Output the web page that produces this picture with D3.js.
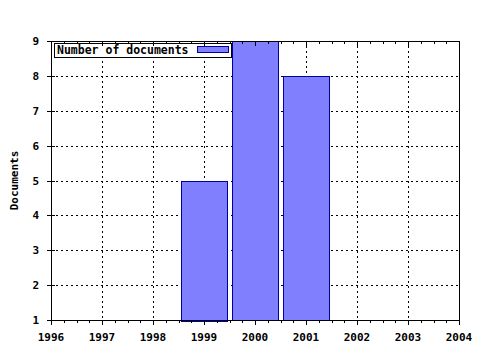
<!DOCTYPE html>
<html>
<head>
<meta charset="utf-8">
<script src="https://cdn.jsdelivr.net/npm/d3@7"></script>
<style>
  body { margin: 0; background: #fff; }
  text { font-family: "DejaVu Sans Mono", monospace; font-weight: bold; font-size: 11px; fill: #000; }
</style>
</head>
<body>
<div id="chart"></div>
<script>
// data
var years = [1999, 2000, 2001];
var counts = [5, 9, 8];
var xTicks = [1996, 1997, 1998, 1999, 2000, 2001, 2002, 2003, 2004];
var yTicks = [1, 2, 3, 4, 5, 6, 7, 8, 9];

var width = 480, height = 350;
var plotLeft = 51, plotRight = 459, plotTop = 41, plotBottom = 320;

var svg = d3.select('#chart').append('svg')
  .attr('width', width)
  .attr('height', height)
  .style('shape-rendering', 'crispEdges');

var x = d3.scaleLinear().domain([1996, 2004]).range([plotLeft, plotRight]);
var y = d3.scaleLinear().domain([1, 9]).range([plotBottom, plotTop]);

// dotted grid
svg.append('g').selectAll('line')
  .data(xTicks.slice(1, -1))
  .enter().append('line')
  .attr('x1', function(d) { return Math.round(x(d)) + 0.5; })
  .attr('x2', function(d) { return Math.round(x(d)) + 0.5; })
  .attr('y1', plotTop).attr('y2', plotBottom)
  .attr('stroke', '#000').attr('stroke-dasharray', '2,3');

svg.append('g').selectAll('line')
  .data(yTicks.slice(1, -1))
  .enter().append('line')
  .attr('y1', function(d) { return Math.round(y(d)) + 0.5; })
  .attr('y2', function(d) { return Math.round(y(d)) + 0.5; })
  .attr('x1', plotLeft).attr('x2', plotRight)
  .attr('stroke', '#000').attr('stroke-dasharray', '2,3');

// legend
var legend = svg.append('g');
legend.append('rect')
  .attr('x', 54.5).attr('y', 43.5).attr('width', 177).attr('height', 14)
  .attr('fill', '#fff').attr('stroke', '#000');
legend.append('text')
  .attr('x', 57).attr('y', 54)
  .style('font-size', '11.5px')
  .text('Number of documents');
legend.append('rect')
  .attr('x', 197.5).attr('y', 46.5).attr('width', 31).attr('height', 6)
  .attr('fill', '#8080ff').attr('stroke', '#0000a0');

// bars
svg.append('g').selectAll('rect')
  .data(years)
  .enter().append('rect')
  .attr('x', function(d) { return Math.round(x(d - 0.45)) + 0.5; })
  .attr('width', function(d) { return Math.round(x(d + 0.45) - x(d - 0.45)); })
  .attr('y', function(d, i) { return Math.round(y(counts[i])) + 0.5; })
  .attr('height', function(d, i) { return Math.round(y(1) - y(counts[i])); })
  .attr('fill', '#8080ff')
  .attr('stroke', '#0000a0');

// axes frame
var frame = svg.append('g').attr('stroke', '#000');
frame.append('line').attr('x1', plotLeft + 0.5).attr('x2', plotLeft + 0.5).attr('y1', plotTop).attr('y2', plotBottom + 1);
frame.append('line').attr('x1', plotRight + 0.5).attr('x2', plotRight + 0.5).attr('y1', plotTop).attr('y2', plotBottom + 1);
frame.append('line').attr('x1', plotLeft).attr('x2', plotRight + 1).attr('y1', plotTop + 0.5).attr('y2', plotTop + 0.5);
frame.append('line').attr('x1', plotLeft).attr('x2', plotRight + 1).attr('y1', plotBottom + 0.5).attr('y2', plotBottom + 0.5);

// x ticks (major + minor), bottom and top
var minor = [];
xTicks.slice(0, -1).forEach(function(t) { minor.push(t + 0.25, t + 0.5, t + 0.75); });
xTicks.forEach(function(t) {
  var px = Math.round(x(t)) + 0.5;
  frame.append('line').attr('x1', px).attr('x2', px).attr('y1', plotBottom).attr('y2', plotBottom + 5);
  frame.append('line').attr('x1', px).attr('x2', px).attr('y1', plotTop).attr('y2', plotTop + 5);
});
minor.forEach(function(t) {
  var px = Math.round(x(t)) + 0.5;
  frame.append('line').attr('x1', px).attr('x2', px).attr('y1', plotBottom).attr('y2', plotBottom + 3);
  frame.append('line').attr('x1', px).attr('x2', px).attr('y1', plotTop).attr('y2', plotTop + 3);
});

// y ticks crossing the left axis
yTicks.forEach(function(t) {
  var py = Math.round(y(t)) + 0.5;
  frame.append('line').attr('x1', plotLeft - 4).attr('x2', plotLeft + 4).attr('y1', py).attr('y2', py);
});

// tick labels
svg.append('g').selectAll('text')
  .data(xTicks)
  .enter().append('text')
  .attr('x', function(d) { return x(d); })
  .attr('y', 341)
  .attr('text-anchor', 'middle')
  .text(function(d) { return d; });

svg.append('g').selectAll('text')
  .data(yTicks)
  .enter().append('text')
  .attr('x', 39)
  .attr('y', function(d) { return y(d) + 4; })
  .attr('text-anchor', 'end')
  .text(function(d) { return d; });

// y axis title
svg.append('text')
  .attr('transform', 'translate(18,' + ((plotTop + plotBottom) / 2) + ') rotate(-90)')
  .attr('text-anchor', 'middle')
  .text('Documents');
</script>
</body>
</html>
